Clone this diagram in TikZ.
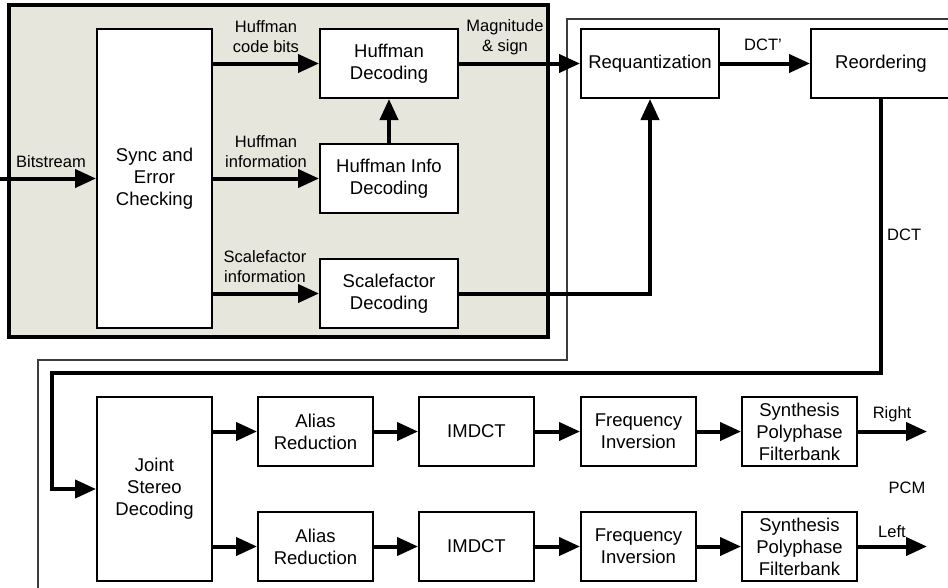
\documentclass[tikz,border=0pt]{standalone}
\usepackage{fontspec}
\setmainfont{Liberation Sans}
\usetikzlibrary{arrows.meta}
\definecolor{shade}{RGB}{230,230,220}
\definecolor{framegray}{RGB}{60,60,60}
\tikzset{
  box/.style={draw=black, line width=2pt, fill=white, inner sep=0pt, align=center,
    font=\fontsize{18.5}{22}\selectfont},
  lbl/.style={inner sep=0pt, align=center, font=\fontsize{16.5}{20}\selectfont},
  arr/.style={line width=4pt, -{Triangle[length=21pt,width=18pt]}},
}
\begin{document}
\begin{tikzpicture}[x=1pt,y=-1pt]
\useasboundingbox (0,0) rectangle (948,587);
% shaded group
\draw[line width=3.5pt, fill=shade] (9,5) rectangle (548,337);
% thin frame
\draw[line width=1.2pt, draw=framegray] (952,19) -- (567,19) -- (567,360) -- (38,360) -- (38,592);

% top nodes
\node[box, minimum width=115pt, minimum height=299pt] (sync) at (154.5,178.5) {Sync and\\Error\\Checking};
\node[box, minimum width=138pt, minimum height=69pt] (hd) at (389,63.5) {Huffman\\Decoding};
\node[box, minimum width=138pt, minimum height=69pt] (hi) at (389,178.5) {Huffman Info\\Decoding};
\node[box, minimum width=138pt, minimum height=69pt] (sf) at (389,293.5) {Scalefactor\\Decoding};
\node[box, minimum width=138pt, minimum height=69pt] (rq) at (650,63.5) {Requantization};
\node[box, minimum width=140pt, minimum height=69pt] (ro) at (881,63.5) {Reordering};

% bottom nodes
\node[box, minimum width=115pt, minimum height=184pt] (js) at (154.5,489) {Joint\\Stereo\\Decoding};
\node[box, minimum width=115pt, minimum height=69pt] (ar1) at (315.5,431.5) {Alias\\Reduction};
\node[box, minimum width=115pt, minimum height=69pt] (im1) at (476.5,431.5) {IMDCT};
\node[box, minimum width=115pt, minimum height=69pt] (fi1) at (638.5,431.5) {Frequency\\Inversion};
\node[box, minimum width=115pt, minimum height=69pt] (sy1) at (799.5,431.5) {Synthesis\\Polyphase\\Filterbank};
\node[box, minimum width=115pt, minimum height=69pt] (ar2) at (315.5,546.5) {Alias\\Reduction};
\node[box, minimum width=115pt, minimum height=69pt] (im2) at (476.5,546.5) {IMDCT};
\node[box, minimum width=115pt, minimum height=69pt] (fi2) at (638.5,546.5) {Frequency\\Inversion};
\node[box, minimum width=115pt, minimum height=69pt] (sy2) at (799.5,546.5) {Synthesis\\Polyphase\\Filterbank};

% labels
\node[lbl] (l1) at (266,37) {Huffman\\code bits};
\node[lbl] (l2) at (266,152) {Huffman\\information};
\node[lbl] (l3) at (265,267) {Scalefactor\\information};
\node[lbl] (l4) at (51,162) {Bitstream};
\node[lbl] (l5) at (505,37) {Magnitude\\\& sign};
\node[lbl] (l6) at (763,45) {DCT'};
\node[lbl, anchor=west] (l7) at (887,235) {DCT};
\node[lbl] (l8) at (892,414) {Right};
\node[lbl] (l9) at (892,532) {Left};
\node[lbl] (l10) at (907,488) {PCM};

% coordinates
\coordinate (bsin) at (0,178.5);
\coordinate (outR) at (927,431.5);
\coordinate (outL) at (927,546.5);
\coordinate (bend) at (52,373);

% connectors
\draw[arr] (bsin) -- (sync.west);
\draw[arr] (sync.east |- hd.west) -- (hd.west);
\draw[arr] (sync.east |- hi.west) -- (hi.west);
\draw[arr] (sync.east |- sf.west) -- (sf.west);
\draw[arr] (hi.north) -- (hd.south);
\draw[arr] (hd.east) -- (rq.west);
\draw[arr] (sf.east) -| (rq.south);
\draw[arr] (rq.east) -- (ro.west);
\draw[arr] (ro.south) |- (bend) |- (js.west);

\draw[arr] (js.east |- ar1.west) -- (ar1.west);
\draw[arr] (ar1.east) -- (im1.west);
\draw[arr] (im1.east) -- (fi1.west);
\draw[arr] (fi1.east) -- (sy1.west);
\draw[arr] (sy1.east) -- (outR);
\draw[arr] (js.east |- ar2.west) -- (ar2.west);
\draw[arr] (ar2.east) -- (im2.west);
\draw[arr] (im2.east) -- (fi2.west);
\draw[arr] (fi2.east) -- (sy2.west);
\draw[arr] (sy2.east) -- (outL);
\end{tikzpicture}
\end{document}
